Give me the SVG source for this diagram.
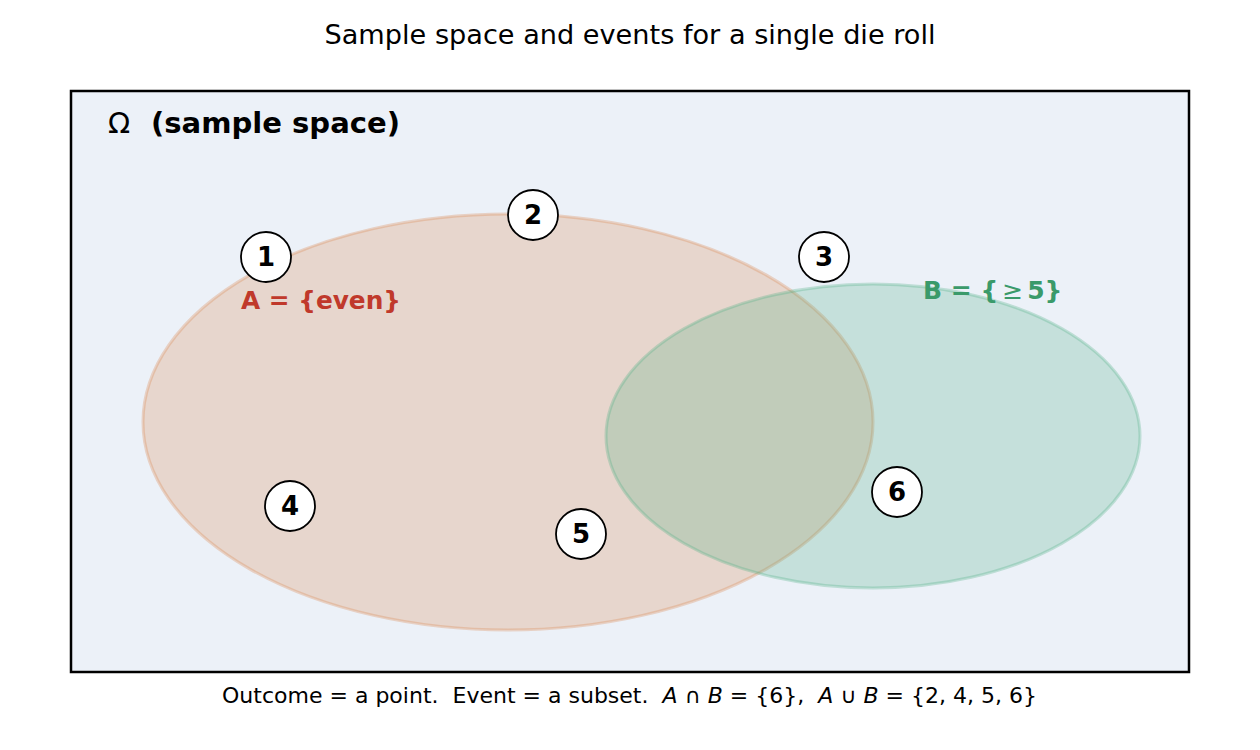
<svg xmlns="http://www.w3.org/2000/svg" width="1260" height="750" viewBox="0 0 1260 750">
<style>
text{font-family:"DejaVu Sans","Liberation Sans",sans-serif;white-space:pre}
.num{font-size:26px;font-weight:bold;text-anchor:middle;fill:#000}
.pt{fill:#fff;stroke:#000;stroke-width:1.8}
.m{font-style:italic}
</style>
<rect width="1260" height="750" fill="#fff"/>
<text x="630" y="44" font-size="26" text-anchor="middle" textLength="611" lengthAdjust="spacingAndGlyphs">Sample space and events for a single die roll</text>
<g id="omega">
<rect x="71" y="91" width="1118" height="581" fill="#ECF1F8" stroke="#000" stroke-width="2.5"/>
<text x="108" y="133" font-size="29">Ω</text>
<text x="151" y="133" font-size="28" font-weight="bold" textLength="249" lengthAdjust="spacingAndGlyphs">(sample space)</text>
</g>
<g id="eventA">
<ellipse cx="508" cy="422" rx="365" ry="208" fill="#D9864D" fill-opacity="0.25" stroke="#D9864D" stroke-opacity="0.3" stroke-width="3"/>
<text x="241" y="309" font-size="25" font-weight="bold" fill="#C0392B" textLength="160" lengthAdjust="spacingAndGlyphs">A = {even}</text>
</g>
<g id="eventB">
<ellipse cx="873" cy="436" rx="267" ry="152" fill="#51AE85" fill-opacity="0.25" stroke="#51AE85" stroke-opacity="0.3" stroke-width="3"/>
<text x="923" y="299" font-size="25" font-weight="bold" fill="#3A9A6A">B = {<tspan font-weight="normal" dx="4">≥</tspan><tspan dx="4">5}</tspan></text>
</g>
<g id="o1"><circle class="pt" cx="266" cy="257" r="25"/><text class="num" x="266" y="266">1</text></g>
<g id="o2"><circle class="pt" cx="533" cy="215" r="25"/><text class="num" x="533" y="224">2</text></g>
<g id="o3"><circle class="pt" cx="824" cy="257" r="25"/><text class="num" x="824" y="266">3</text></g>
<g id="o4"><circle class="pt" cx="290" cy="506" r="25"/><text class="num" x="290" y="515">4</text></g>
<g id="o5"><circle class="pt" cx="581" cy="534" r="25"/><text class="num" x="581" y="543">5</text></g>
<g id="o6"><circle class="pt" cx="897" cy="492" r="25"/><text class="num" x="897" y="501">6</text></g>
<g id="connectors"></g>
<text x="222" y="703" font-size="21" textLength="815" lengthAdjust="spacingAndGlyphs">Outcome = a point.  Event = a subset.  <tspan class="m">A</tspan> ∩ <tspan class="m">B</tspan> = {6},  <tspan class="m">A</tspan> ∪ <tspan class="m">B</tspan> = {2, 4, 5, 6}</text>
</svg>
